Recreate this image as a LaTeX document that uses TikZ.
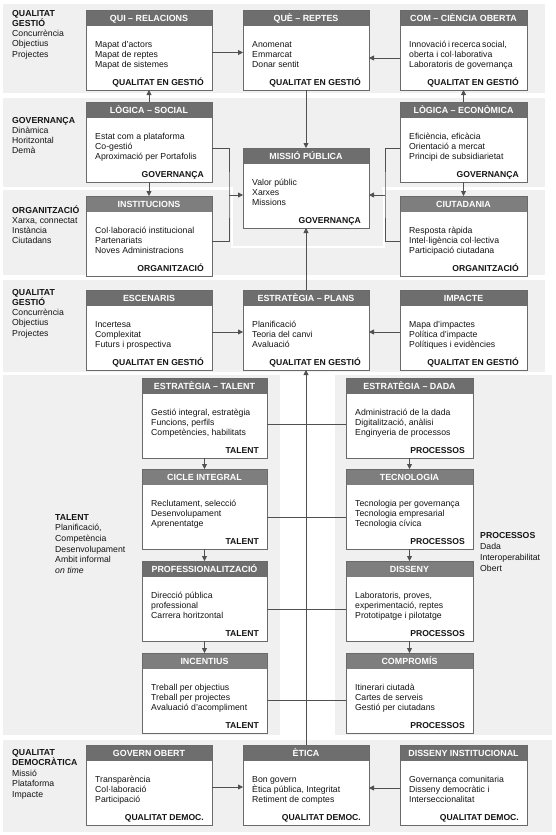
\documentclass[tikz,border=0pt]{standalone}
\usepackage{fontspec}
\setmainfont{Liberation Sans}
\usetikzlibrary{arrows.meta,calc}
\definecolor{band}{HTML}{F0F0F0}
\definecolor{hdrA}{HTML}{6E6E6E}
\definecolor{hdrB}{HTML}{7E7E7E}
\definecolor{edgec}{HTML}{6A6A6A}
\definecolor{connc}{HTML}{505050}
\definecolor{txtc}{HTML}{141414}
\tikzset{
 mybox/.style={draw=edgec, line width=0.8pt, fill=white, minimum height=80pt, anchor=north west, inner sep=0pt, outer sep=0pt},
 hdrtxt/.style={text=white, font=\fontsize{8.9}{10}\selectfont\bfseries, inner sep=0pt, anchor=base},
 bodytxt/.style={text=txtc, font=\fontsize{8.7}{10.2}\selectfont, anchor=base west, inner sep=0pt},
 foottxt/.style={text=txtc, font=\fontsize{8.6}{10}\selectfont\bfseries, anchor=base east, inner sep=0pt},
 lbltxt/.style={text=txtc, font=\fontsize{8.7}{10}\selectfont, anchor=base west, inner sep=0pt},
 conn/.style={draw=connc, line width=0.8pt},
 arr/.style={conn, -{Triangle[length=5pt,width=5pt]}},
}
% name, x, y, width, title, body lines, footer, header colour
\newcommand\mkbox[8]{%
 \node[mybox, minimum width=#4pt] (#1) at (#2,#3) {};
 \fill[#8] (#1.north west) rectangle ([yshift=-16pt]#1.north east);
 \draw[edgec, line width=0.8pt] (#1.north west) rectangle (#1.south east);
 \node[hdrtxt] (#1-t) at ([yshift=-11.3pt]#1.north) {#5};
 \foreach \bline [count=\i] in {#6} {
   \node[bodytxt] (#1-l\i) at ([xshift=9pt,yshift={-(37+(\i-1)*10.2)}]#1.north west) {\bline};
 }
 \node[foottxt] (#1-f) at ([xshift=-8pt,yshift=-75.5pt]#1.north east) {#7};
}
% name, x, first-line centre y, step, lines
\newcommand\mklbl[5]{%
 \foreach \bline [count=\i] in {#5} {
   \node[lbltxt] (#1-\i) at (#2,{#3+3.2+(\i-1)*#4}) {\bline};
 }
}
\begin{document}
\begin{tikzpicture}[x=1pt,y=-1pt]
\useasboundingbox (0,0) rectangle (555,835);
\fill[white] (0,0) rectangle (555,835);
% bands
\fill[band] (3,4) rectangle (545,93);
\fill[band] (3,98) rectangle (545,187);
\fill[band] (3,190) rectangle (545,275);
\fill[band] (3,280) rectangle (545,372);
\fill[band] (3,375) rectangle (280,735);
\fill[band] (335,375) rectangle (552,735);
\fill[band] (3,740) rectangle (552,832);
% central frame
\fill[band] (233,185) rectangle (382,192);
\draw[white, line width=2.5pt] (232,187) -- (232,247) -- (384,247) -- (384,187);

% labels
\mklbl{lA}{12}{13}{10.2}{\textbf{QUALITAT},\textbf{GESTIÓ},Concurrència,Objectius,Projectes}
\mklbl{lB}{12}{120}{10.2}{\textbf{GOVERNANÇA},Dinàmica,Horitzontal,Demà}
\mklbl{lC}{12}{210}{10.2}{\textbf{ORGANITZACIÓ},{Xarxa, connectat},Instància,Ciutadans}
\mklbl{lD}{12}{292}{10.2}{\textbf{QUALITAT},\textbf{GESTIÓ},Concurrència,Objectius,Projectes}
\mklbl{lE}{55}{517}{10.6}{\textbf{TALENT},{Planificació,},Competència,Desenvolupament,Ambit informal,\textit{on time}}
\mklbl{lF}{480}{535}{11}{\textbf{PROCESSOS},Dada,Interoperabilitat,Obert}
\mklbl{lG}{12}{752}{10.5}{\textbf{QUALITAT},\textbf{DEMOCRÀTICA},Missió,Plataforma,Impacte}

% row 1
\mkbox{qui}{86}{10}{126}{QUI – RELACIONS}{{Mapat d'actors},{Mapat de reptes},{Mapat de sistemes}}{QUALITAT EN GESTIÓ}{hdrA}
\mkbox{que}{243}{10}{126}{QUÈ – REPTES}{Anomenat,Emmarcat,{Donar sentit}}{QUALITAT EN GESTIÓ}{hdrA}
\mkbox{com}{400}{10}{127}{COM – CIÈNCIA OBERTA}{{\makebox[94pt][s]{Innovació i recerca social,}},{oberta i col·laborativa},{Laboratoris de governança}}{QUALITAT EN GESTIÓ}{hdrA}
% row 2
\mkbox{lsoc}{86}{102}{126}{LÒGICA – SOCIAL}{{Estat com a plataforma},{Co-gestió},{Aproximació per Portafolis}}{GOVERNANÇA}{hdrA}
\mkbox{leco}{400}{102}{127}{LÒGICA – ECONÒMICA}{{Eficiència, eficàcia},{Orientació a mercat},{Principi de subsidiarietat}}{GOVERNANÇA}{hdrA}
\mkbox{missio}{243}{148}{126}{MISSIÓ PÚBLICA}{{Valor públic},Xarxes,Missions}{GOVERNANÇA}{hdrA}
% row 3
\mkbox{inst}{86}{196}{126}{INSTITUCIONS}{{Col·laboració institucional},Partenariats,{Noves Administracions}}{ORGANITZACIÓ}{hdrB}
\mkbox{ciut}{400}{196}{127}{CIUTADANIA}{{Resposta ràpida},{Intel·ligència col·lectiva},{Participació ciutadana}}{ORGANITZACIÓ}{hdrB}
% row 4
\mkbox{esc}{86}{290}{126}{ESCENARIS}{Incertesa,Complexitat,{Futurs i prospectiva}}{QUALITAT EN GESTIÓ}{hdrA}
\mkbox{plans}{243}{290}{126}{ESTRATÈGIA – PLANS}{Planificació,{Teoria del canvi},Avaluació}{QUALITAT EN GESTIÓ}{hdrA}
\mkbox{imp}{400}{290}{127}{IMPACTE}{{Mapa d'impactes},{Política d'impacte},{Polítiques i evidències}}{QUALITAT EN GESTIÓ}{hdrA}
% talent
\mkbox{et}{142}{378}{125}{ESTRATÈGIA – TALENT}{{Gestió integral, estratègia},{Funcions, perfils},{Competències, habilitats}}{TALENT}{hdrA}
\mkbox{cicle}{142}{469}{125}{CICLE INTEGRAL}{{Reclutament, selecció},Desenvolupament,Aprenentatge}{TALENT}{hdrB}
\mkbox{prof}{142}{561}{125}{PROFESSIONALITZACIÓ}{{Direcció pública},professional,{Carrera horitzontal}}{TALENT}{hdrA}
\mkbox{inc}{142}{653}{125}{INCENTIUS}{{Treball per objectius},{Treball per projectes},{Avaluació d'acompliment}}{TALENT}{hdrB}
% processos
\mkbox{ed}{346}{378}{127}{ESTRATÈGIA – DADA}{{Administració de la dada},{Digitalització, anàlisi},{Enginyeria de processos}}{PROCESSOS}{hdrA}
\mkbox{tec}{346}{469}{127}{TECNOLOGIA}{{Tecnologia per governança},{Tecnologia empresarial},{Tecnologia cívica}}{PROCESSOS}{hdrB}
\mkbox{dis}{346}{561}{127}{DISSENY}{{Laboratoris, proves,},{experimentació, reptes},{Prototipatge i pilotatge}}{PROCESSOS}{hdrB}
\mkbox{comp}{346}{653}{127}{COMPROMÍS}{{Itinerari ciutadà},{Cartes de serveis},{Gestió per ciutadans}}{PROCESSOS}{hdrB}
% bottom
\mkbox{gov}{86}{745}{126}{GOVERN OBERT}{Transparència,Col·laboració,Participació}{QUALITAT DEMOC.}{hdrA}
\mkbox{etica}{243}{745}{126}{ÈTICA}{{Bon govern},{Ètica pública, Integritat},{Retiment de comptes}}{QUALITAT DEMOC.}{hdrA}
\mkbox{dinst}{400}{745}{127}{DISSENY INSTITUCIONAL}{{Governança comunitaria},{Disseny democràtic i},Interseccionalitat}{QUALITAT DEMOC.}{hdrA}

% connectors row 1
\draw[arr] ([yshift=-42.5pt]qui.north east) -- ([yshift=-42.5pt]qui.north east -| que.west);
\draw[arr] ([yshift=-48pt]com.north west) -- ([yshift=-48pt]com.north west -| que.east);
\draw[arr] (lsoc.north) -- (qui.south);
\draw[arr] (leco.north) -- (com.south);
\draw[arr] (que.south) -- (missio.north);
\draw[arr] (lsoc.south) -- (inst.north);
\draw[arr] (leco.south) -- (ciut.north);
% brackets
\coordinate (bL) at (229,195);
\coordinate (bR) at (385,195);
\draw[conn] ([yshift=-46pt]lsoc.north east) -| (bL) |- ([yshift=-45pt]inst.north east);
\draw[arr] (bL) -- (bL -| missio.west);
\draw[conn] ([yshift=-46pt]leco.north west) -| (bR) |- ([yshift=-45pt]ciut.north west);
\draw[arr] (bR) -- (bR -| missio.east);
% row 4
\draw[arr] (plans.north) -- (missio.south);
\draw[arr] ([yshift=-42pt]esc.north east) -- ([yshift=-42pt]esc.north east -| plans.west);
\draw[arr] ([yshift=-42pt]imp.north west) -- ([yshift=-42pt]imp.north west -| plans.east);
% spine
\draw[arr] (etica.north) -- (plans.south);
% talent chain
\draw[arr] (et.south) -- (cicle.north);
\draw[arr] (cicle.south) -- (prof.north);
\draw[arr] (prof.south) -- (inc.north);
\draw[arr] (ed.south) -- (tec.north);
\draw[arr] (tec.south) -- (dis.north);
\draw[arr] (dis.south) -- (comp.north);
\draw[conn] ([yshift=-46pt]et.north east) -- ([yshift=-46pt]et.north east -| ed.west);
\draw[conn] ([yshift=-48pt]cicle.north east) -- ([yshift=-48pt]cicle.north east -| tec.west);
\draw[conn] ([yshift=-48pt]prof.north east) -- ([yshift=-48pt]prof.north east -| dis.west);
\draw[conn] ([yshift=-47pt]inc.north east) -- ([yshift=-47pt]inc.north east -| comp.west);
% bottom
\draw[arr] ([yshift=-42pt]gov.north east) -- ([yshift=-42pt]gov.north east -| etica.west);
\draw[arr] ([yshift=-43pt]dinst.north west) -- ([yshift=-43pt]dinst.north west -| etica.east);
\end{tikzpicture}
\end{document}
